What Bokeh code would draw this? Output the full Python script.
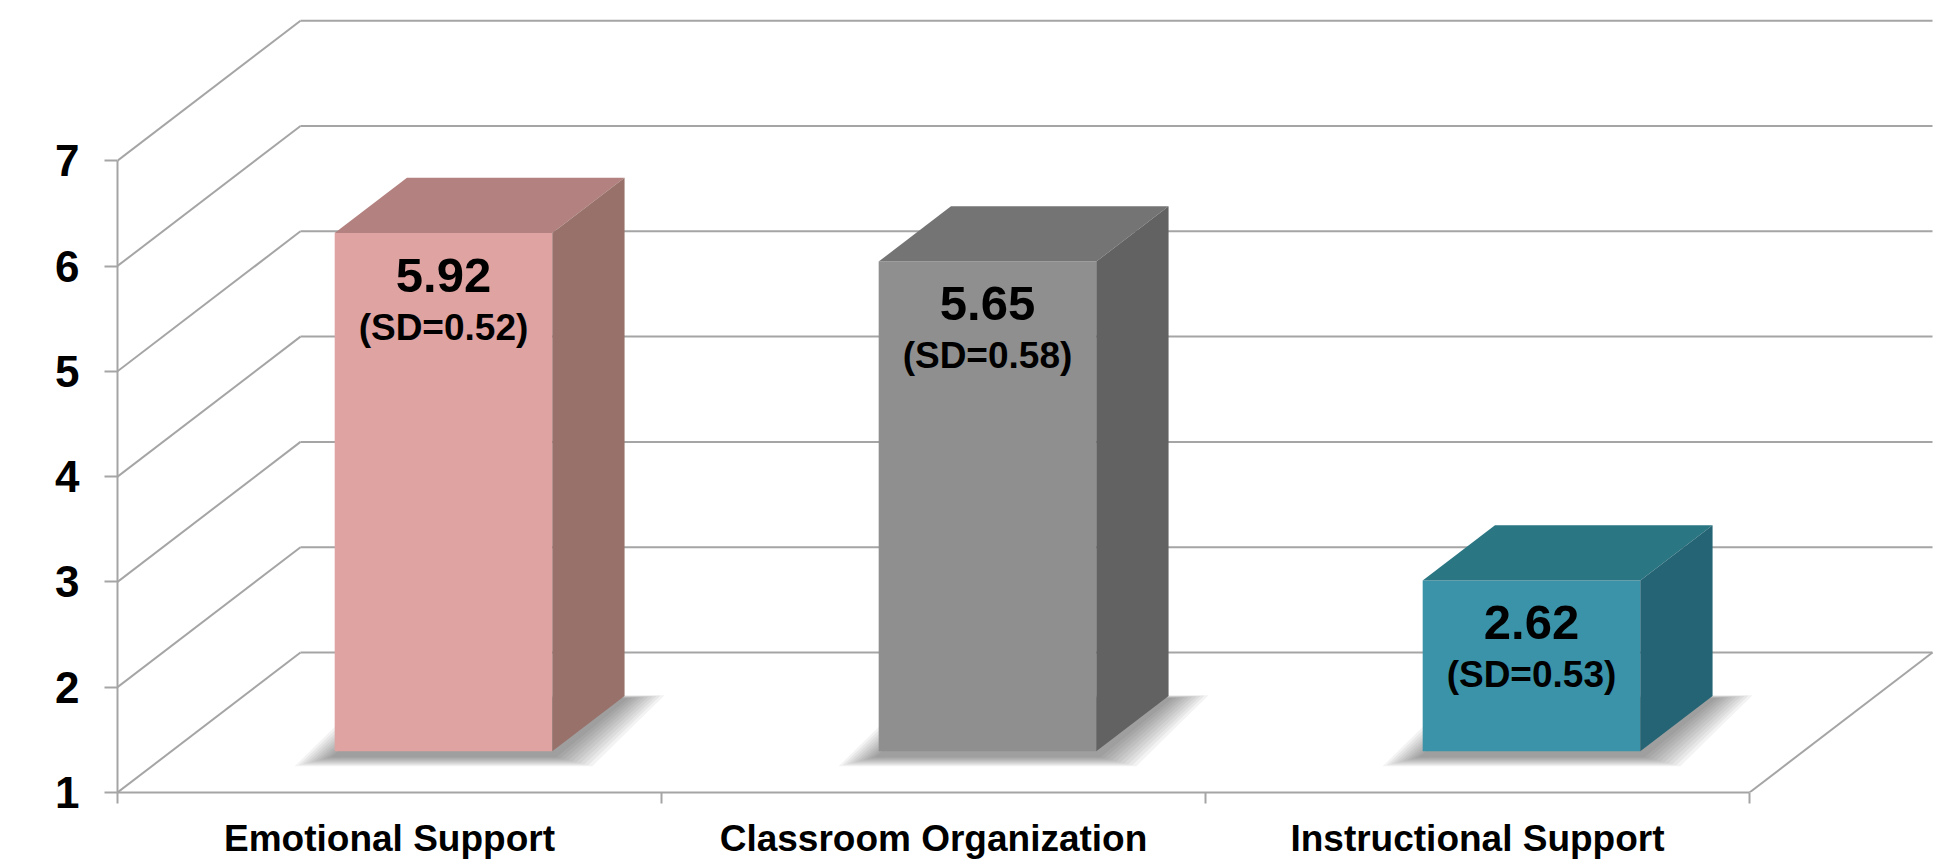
from bokeh.plotting import figure
from bokeh.models import Range1d, FixedTicker
from bokeh.embed import file_html
from bokeh.resources import INLINE
from bokeh.core.properties import value

# ---- data ----
categories = ["Emotional Support", "Classroom Organization", "Instructional Support"]
means = [5.92, 5.65, 2.62]
sds = [0.52, 0.58, 0.53]
y_ticks = [1, 2, 3, 4, 5, 6, 7]

front_colors = ["#DFA3A2", "#8F8F8F", "#3A93A9"]
top_colors = ["#B3817F", "#747474", "#2B7683"]
side_colors = ["#98716A", "#626262", "#256474"]

GRID = "#A5A5A5"
FONT = "Liberation Sans"

# ---- projection (data units) ----
PX_X = 544.0      # px per category slot
PX_Y = 105.3      # px per value unit
DX = 183.0 / PX_X  # depth vector of the whole box
DY = 140.0 / PX_Y
F0 = 0.295        # depth fraction where the bars' front faces sit
FB = 0.395        # depth fraction of a bar
BW = 0.4          # bar width in slot units

W, H = 1938, 864
LEFT, TOP, BOTTOM = 117, 6, 72

n = len(categories)
x_end = (W - LEFT) / PX_X
y_end = 1 + (H - TOP - BOTTOM) / PX_Y

p = figure(width=W, height=H, output_backend="svg", toolbar_location=None,
           x_range=Range1d(0, x_end), y_range=Range1d(1, y_end),
           min_border_left=LEFT, min_border_right=0, min_border_top=TOP,
           min_border_bottom=BOTTOM)
p.xgrid.visible = False
p.ygrid.visible = False
p.outline_line_color = None
p.background_fill_color = "white"
p.border_fill_color = "white"

# ---- walls / floor grid ----
x0s, y0s, x1s, y1s = [], [], [], []
for v in y_ticks:
    x0s.append(0); y0s.append(v); x1s.append(DX); y1s.append(v + DY)
    x0s.append(DX); y0s.append(v + DY); x1s.append(n + DX); y1s.append(v + DY)
x0s.append(n); y0s.append(y_ticks[0]); x1s.append(n + DX); y1s.append(y_ticks[0] + DY)
p.segment(x0=x0s, y0=y0s, x1=x1s, y1=y1s, line_color=GRID, line_width=2)

# ---- bar geometry ----
bx, by = FB * DX, FB * DY
Ls, Rs, Bs, Ts = [], [], [], []
for i, m in enumerate(means):
    cx = i + 0.5 + F0 * DX
    Ls.append(cx - BW / 2)
    Rs.append(cx + BW / 2)
    Bs.append(1 + F0 * DY)
    Ts.append(m + F0 * DY)

# ---- soft shadows on the floor ----
layers = 10
for k in range(layers):
    t = k / (layers - 1)
    ex = (40 - 36 * t) / PX_X
    ey = (12 - 9 * t) / PX_Y
    off = 3 / PX_Y
    sxs, sys = [], []
    for L, R, B in zip(Ls, Rs, Bs):
        sxs.append([L - ex, R + ex, R + bx + ex, L + bx - ex])
        sys.append([B - ey - off, B - ey - off, B + by + ey * 0.3 - off, B + by + ey * 0.3 - off])
    p.patches(xs=sxs, ys=sys, fill_color="#3A3A3A", fill_alpha=0.06, line_color=None)

# ---- bars ----
p.quad(left=Ls, right=Rs, bottom=Bs, top=Ts, fill_color=front_colors, line_color=None)
top_xs = [[L, R, R + bx, L + bx] for L, R in zip(Ls, Rs)]
top_ys = [[T, T, T + by, T + by] for T in Ts]
p.patches(xs=top_xs, ys=top_ys, fill_color=top_colors, line_color=None)
side_xs = [[R, R + bx, R + bx, R] for R in Rs]
side_ys = [[B, B + by, T + by, T] for B, T in zip(Bs, Ts)]
p.patches(xs=side_xs, ys=side_ys, fill_color=side_colors, line_color=None)

# ---- value labels ----
cxs = [(L + R) / 2 for L, R in zip(Ls, Rs)]
p.text(x=cxs, y=[T - 42 / PX_Y for T in Ts], text=[f"{m:.2f}" for m in means],
       text_font=value(FONT), text_font_style="bold", text_font_size="49px",
       text_align="center", text_baseline="middle", text_color="black")
p.text(x=cxs, y=[T - 94 / PX_Y for T in Ts], text=[f"(SD={s:.2f})" for s in sds],
       text_font=value(FONT), text_font_style="bold", text_font_size="37px",
       text_align="center", text_baseline="middle", text_color="black")

# ---- axes ----
ya = p.yaxis[0]
ya.ticker = FixedTicker(ticks=y_ticks)
ya.bounds = (y_ticks[0], y_ticks[-1])
ya.axis_line_color = GRID
ya.axis_line_width = 2
ya.major_tick_line_color = GRID
ya.major_tick_line_width = 2
ya.major_tick_out = 13
ya.major_tick_in = 0
ya.minor_tick_line_color = None
ya.major_label_text_font = FONT
ya.major_label_text_font_style = "bold"
ya.major_label_text_font_size = "44px"
ya.major_label_text_color = "black"
ya.major_label_standoff = 25

centers = [i + 0.5 for i in range(n)]
xa = p.xaxis[0]
xa.ticker = FixedTicker(ticks=centers, minor_ticks=list(range(n + 1)))
xa.bounds = (0, n)
xa.major_label_overrides = {c: lab for c, lab in zip(centers, categories)}
xa.axis_line_color = GRID
xa.axis_line_width = 2
xa.major_tick_line_color = None
xa.major_tick_out = 11
xa.major_tick_in = 0
xa.minor_tick_line_color = GRID
xa.minor_tick_line_width = 2
xa.minor_tick_out = 11
xa.minor_tick_in = 0
xa.major_label_text_font = FONT
xa.major_label_text_font_style = "bold"
xa.major_label_text_font_size = "37px"
xa.major_label_text_color = "black"
xa.major_label_standoff = 14

open("out.html", "w").write(file_html(p, INLINE))
